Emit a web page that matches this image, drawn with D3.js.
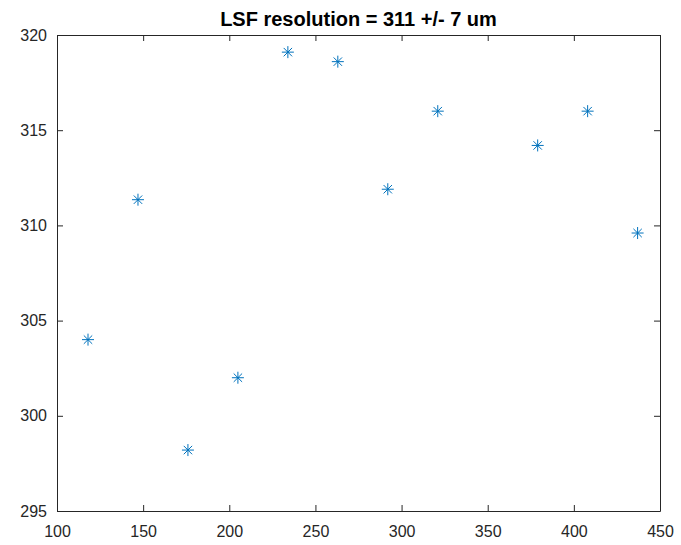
<!DOCTYPE html>
<html>
<head>
<meta charset="utf-8">
<script src="https://cdn.jsdelivr.net/npm/d3@7"></script>
<style>
  body { margin: 0; background: #fff; }
  svg { display: block; font-family: "Liberation Sans", Arial, sans-serif; }
</style>
</head>
<body>
<svg id="chart"></svg>
<script>
// data
let xValues = [118, 147, 176, 205, 234, 263, 292, 321, 379, 408, 437];
let yValues = [304.0, 311.35, 298.2, 302.0, 319.1, 318.6, 311.9, 316.0, 314.2, 316.0, 309.6];
let xTicks = [100, 150, 200, 250, 300, 350, 400, 450];
let yTicks = [295, 300, 305, 310, 315, 320];
let title = 'LSF resolution = 311 +/- 7 um';

let width = 681;
let height = 545;
let margin = {left: 57, right: 21, top: 35, bottom: 34};

let svg = d3.select('#chart').attr('width', width).attr('height', height);

let xScale = d3.scaleLinear().domain([100, 450]).range([margin.left, width - margin.right]);
let yScale = d3.scaleLinear().domain([295, 320]).range([height - margin.bottom, margin.top]);

let axisColor = '#262626';
let tickLen = 6;

//bottom and left axes with inward ticks
let gBottom = svg.append('g')
    .attr('transform', 'translate(0,' + (height - margin.bottom) + ')')
    .call(d3.axisBottom(xScale).tickValues(xTicks).tickSizeInner(-tickLen).tickSizeOuter(0).tickPadding(15));
let gLeft = svg.append('g')
    .attr('transform', 'translate(' + margin.left + ',0)')
    .call(d3.axisLeft(yScale).tickValues(yTicks).tickSizeInner(-tickLen).tickSizeOuter(0).tickPadding(10));
//top and right axes, ticks only
let gTop = svg.append('g')
    .attr('transform', 'translate(0,' + margin.top + ')')
    .call(d3.axisTop(xScale).tickValues(xTicks).tickSizeInner(-tickLen).tickSizeOuter(0).tickFormat(''));
let gRight = svg.append('g')
    .attr('transform', 'translate(' + (width - margin.right) + ',0)')
    .call(d3.axisRight(yScale).tickValues(yTicks).tickSizeInner(-tickLen).tickSizeOuter(0).tickFormat(''));

[gBottom, gLeft, gTop, gRight].forEach(g => {
    g.selectAll('path, line').attr('stroke', axisColor).attr('stroke-width', 1);
    g.selectAll('text').attr('fill', axisColor).style('font-size', '16px').style('font-family', '"Liberation Sans", Arial, sans-serif');
});

//asterisk markers
let r = 6;
let star = 'M' + (-r) + ',0L' + r + ',0M0,' + (-r) + 'L0,' + r +
    'M' + (-r * 0.7) + ',' + (-r * 0.7) + 'L' + (r * 0.7) + ',' + (r * 0.7) +
    'M' + (-r * 0.7) + ',' + (r * 0.7) + 'L' + (r * 0.7) + ',' + (-r * 0.7);

svg.append('g').selectAll('path')
    .data(xValues.map((x, i) => [x, yValues[i]]))
    .join('path')
    .attr('d', star)
    .attr('transform', d => 'translate(' + xScale(d[0]) + ',' + yScale(d[1]) + ')')
    .attr('fill', 'none')
    .attr('stroke', '#0072BD')
    .attr('stroke-width', 1);

svg.append('text')
    .attr('x', (xScale.range()[0] + xScale.range()[1]) / 2)
    .attr('y', 26)
    .attr('text-anchor', 'middle')
    .attr('fill', '#000')
    .style('font-size', '20px')
    .style('font-weight', 'bold')
    .text(title);
</script>
</body>
</html>
